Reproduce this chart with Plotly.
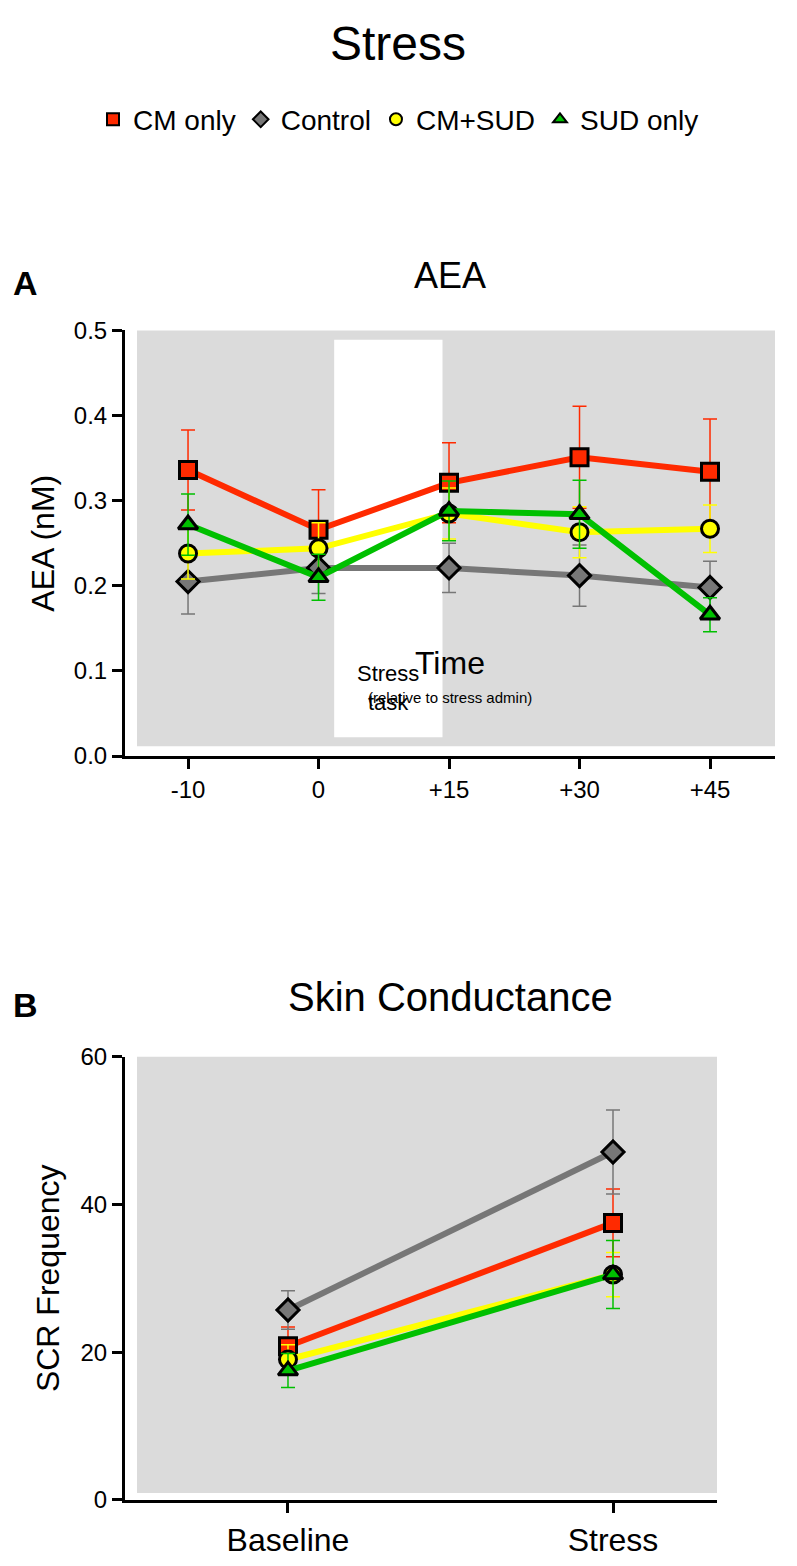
import plotly.graph_objects as go
from plotly.subplots import make_subplots

# page adds an 8px body margin, so the figure is a bit smaller than the window
W, H = 781, 1550

groups = ["CM only", "Control", "CM+SUD", "SUD only"]
colors = ["#ff2a00", "#777777", "#ffff00", "#00c000"]
symbols = ["square", "diamond", "circle", "triangle-up"]

time_labels = ["-10", "0", "+15", "+30", "+45"]
aea_mean = {
    "CM only": [0.336, 0.266, 0.321, 0.351, 0.334],
    "Control": [0.205, 0.221, 0.221, 0.212, 0.198],
    "CM+SUD": [0.238, 0.244, 0.285, 0.263, 0.267],
    "SUD only": [0.272, 0.210, 0.288, 0.284, 0.166],
}
aea_err = {
    "CM only": [0.047, 0.047, 0.047, 0.060, 0.062],
    "Control": [0.038, 0.030, 0.029, 0.036, 0.031],
    "CM+SUD": [0.030, 0.030, 0.030, 0.030, 0.028],
    "SUD only": [0.036, 0.027, 0.035, 0.040, 0.020],
}

scr_labels = ["Baseline", "Stress"]
scr_mean = {
    "CM only": [20.8, 37.5],
    "Control": [25.7, 47.1],
    "CM+SUD": [19.0, 30.5],
    "SUD only": [17.5, 30.5],
}
scr_err = {
    "CM only": [2.6, 4.6],
    "Control": [2.6, 5.7],
    "CM+SUD": [2.0, 3.0],
    "SUD only": [2.3, 4.6],
}

def px(x):
    return (x - 8) / W

def py(y):
    return 1 - (y - 8) / H

fig = make_subplots(rows=2, cols=1)

# legend-only entries: big markers, no lines
for i, g in enumerate(groups):
    fig.add_trace(go.Scatter(
        x=[None], y=[None], name=g, mode="markers",
        marker=dict(symbol=symbols[i], size=20, color=colors[i], line=dict(color="black", width=3)),
    ), row=1, col=1)

for i, g in enumerate(groups):
    fig.add_trace(go.Scatter(
        x=list(range(len(time_labels))), y=aea_mean[g], name=g, showlegend=False,
        mode="lines+markers",
        line=dict(color=colors[i], width=6),
        marker=dict(symbol=symbols[i], size=17, color=colors[i], line=dict(color="black", width=3)),
        error_y=dict(type="data", array=aea_err[g], color=colors[i], thickness=1.5, width=7),
    ), row=1, col=1)
for i, g in enumerate(groups):
    fig.add_trace(go.Scatter(
        x=list(range(len(scr_labels))), y=scr_mean[g], name=g, showlegend=False,
        mode="lines+markers",
        line=dict(color=colors[i], width=6),
        marker=dict(symbol=symbols[i], size=17, color=colors[i], line=dict(color="black", width=3)),
        error_y=dict(type="data", array=scr_err[g], color=colors[i], thickness=1.5, width=7),
    ), row=2, col=1)

axis_common = dict(showline=True, linecolor="black", linewidth=3, ticks="outside",
                   ticklen=10, tickwidth=3, tickcolor="black", showgrid=False, zeroline=False)

def note(text, x, y, size, **kw):
    return dict(text=text, x=px(x), y=py(y), xref="paper", yref="paper", showarrow=False,
                xanchor="center", yanchor="middle", font=dict(size=size), **kw)

fig.update_layout(
    width=W, height=H, margin=dict(l=0, r=0, t=0, b=0),
    paper_bgcolor="white", plot_bgcolor="rgba(0,0,0,0)",
    font=dict(family="Liberation Sans, Arial", color="black"),
    xaxis=dict(domain=[px(125), px(775)], range=[-0.483, 4.498], tickvals=list(range(5)),
               ticktext=time_labels, tickfont=dict(size=24), anchor="y", **axis_common),
    yaxis=dict(domain=[py(760), py(324)], range=[0, 0.5], tickvals=[0, 0.1, 0.2, 0.3, 0.4, 0.5],
               ticktext=["0.0", "0.1", "0.2", "0.3", "0.4", "0.5"], tickfont=dict(size=24),
               title=dict(text="AEA (nM)", font=dict(size=32), standoff=10), anchor="x", **axis_common),
    xaxis2=dict(domain=[px(125), px(717)], range=[-0.5015, 1.32], tickvals=[0, 1],
                ticktext=scr_labels, tickfont=dict(size=32), anchor="y2", **axis_common),
    yaxis2=dict(domain=[py(1522), py(1068)], range=[0, 60], tickvals=[0, 20, 40, 60],
                tickfont=dict(size=24), title=dict(text="SCR Frequency", font=dict(size=32), standoff=12),
                anchor="x2", **axis_common),
    legend=dict(orientation="h", x=0.5, xanchor="center", y=py(108), yanchor="middle",
                font=dict(size=28), itemsizing="constant", tracegroupgap=0, itemwidth=30,
                bgcolor="rgba(0,0,0,0)"),
    shapes=[
        dict(type="rect", xref="paper", yref="paper", x0=px(137), x1=px(775), y0=py(750), y1=py(324),
             fillcolor="#dbdbdb", line_width=0, layer="below"),
        dict(type="rect", xref="x", yref="y", x0=1.12, x1=1.95, y0=0.022, y1=0.489,
             fillcolor="white", line_width=0, layer="below"),
        dict(type="rect", xref="paper", yref="paper", x0=px(137), x1=px(717), y0=py(1515), y1=py(1068),
             fillcolor="#dbdbdb", line_width=0, layer="below"),
    ],
    annotations=[
        note("Stress", 398, 30, 48),
        note("AEA", 450, 268, 36),
        note("<b>A</b>", 25, 275, 34),
        dict(text="Stress<br>task", x=1.535, y=0.08, xref="x", yref="y", showarrow=False,
             xanchor="center", yanchor="middle", font=dict(size=22)),
        note("Time", 450, 665, 32),
        note("(relative to stress admin)", 450, 700, 15),
        note("Skin Conductance", 450, 1007, 40),
        note("<b>B</b>", 25, 1015, 34),
    ],
)

fig.write_html("out.html")
